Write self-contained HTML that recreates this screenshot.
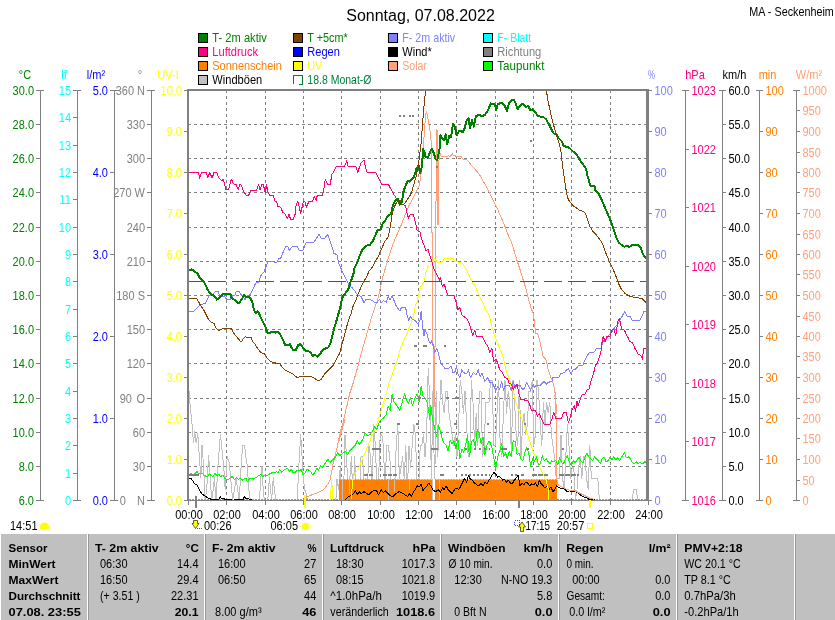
<!DOCTYPE html>
<html lang="de"><head><meta charset="utf-8"><title>MA - Seckenheim - Sonntag, 07.08.2022</title>
<style>
html,body{margin:0;padding:0;background:#fff;}
body{width:835px;height:620px;overflow:hidden;}
svg{display:block;font-family:"Liberation Sans",sans-serif;font-size:11px;}
.c{shape-rendering:crispEdges;}
.b{font-weight:bold;}
.p{fill:none;stroke-linejoin:round;stroke-linecap:butt;}
</style></head><body>
<svg width="835" height="620" viewBox="0 0 835 620">
<rect x="0" y="0" width="835" height="620" fill="#fff"/>
<text x="420.5" y="21" font-size="16" text-anchor="middle">Sonntag, 07.08.2022</text>
<text transform="matrix(1 0 0 1.09 749.3 15.5)" textLength="84.5" lengthAdjust="spacingAndGlyphs">MA - Seckenheim</text>
<g class="c">
<rect x="198.5" y="33.5" width="9" height="9" fill="#008000" stroke="#000"/>
<rect x="198.5" y="47.5" width="9" height="9" fill="#FF0080" stroke="#000"/>
<rect x="198.5" y="61.5" width="9" height="9" fill="#FF8000" stroke="#000"/>
<rect x="198.5" y="75.5" width="9" height="9" fill="#C0C0C0" stroke="#000"/>
<rect x="293.5" y="33.5" width="9" height="9" fill="#804000" stroke="#000"/>
<rect x="293.5" y="47.5" width="9" height="9" fill="#0000FF" stroke="#000"/>
<rect x="293.5" y="61.5" width="9" height="9" fill="#FFFF00" stroke="#000"/>
<path d="M293.5 84V75.5H302.5V84.5H299" fill="none" stroke="#008040"/>
<rect x="388.5" y="33.5" width="9" height="9" fill="#8080FF" stroke="#000"/>
<rect x="388.5" y="47.5" width="9" height="9" fill="#000000" stroke="#000"/>
<rect x="388.5" y="61.5" width="9" height="9" fill="#FFA07A" stroke="#000"/>
<rect x="483.5" y="33.5" width="9" height="9" fill="#00FFFF" stroke="#000"/>
<rect x="483.5" y="47.5" width="9" height="9" fill="#808080" stroke="#000"/>
<rect x="483.5" y="61.5" width="9" height="9" fill="#00FF00" stroke="#000"/>
</g>
<text transform="matrix(1 0 0 1.09 212.3 42)" fill="#008000" textLength="54.5" lengthAdjust="spacingAndGlyphs">T- 2m aktiv</text>
<text transform="matrix(1 0 0 1.09 212.3 56)" fill="#FF0080" textLength="45.8" lengthAdjust="spacingAndGlyphs">Luftdruck</text>
<text transform="matrix(1 0 0 1.09 212.3 70)" fill="#FF8000" textLength="69.5" lengthAdjust="spacingAndGlyphs">Sonnenschein</text>
<text transform="matrix(1 0 0 1.09 212.3 84)" textLength="50" lengthAdjust="spacingAndGlyphs">Windböen</text>
<text transform="matrix(1 0 0 1.09 307.3 42)" fill="#008000" textLength="40.5" lengthAdjust="spacingAndGlyphs">T +5cm*</text>
<text transform="matrix(1 0 0 1.09 307.3 56)" fill="#0000FF" textLength="32.6" lengthAdjust="spacingAndGlyphs">Regen</text>
<text transform="matrix(1 0 0 1.09 307.3 70)" fill="#FFFF00" textLength="15" lengthAdjust="spacingAndGlyphs">UV</text>
<text transform="matrix(1 0 0 1.09 307.3 84)" fill="#008040" textLength="64.2" lengthAdjust="spacingAndGlyphs">18.8 Monat-Ø</text>
<text transform="matrix(1 0 0 1.09 402.3 42)" fill="#8080FF" textLength="52.9" lengthAdjust="spacingAndGlyphs">F- 2m aktiv</text>
<text transform="matrix(1 0 0 1.09 402.3 56)" textLength="29.5" lengthAdjust="spacingAndGlyphs">Wind*</text>
<text transform="matrix(1 0 0 1.09 402.3 70)" fill="#FFA07A" textLength="24.7" lengthAdjust="spacingAndGlyphs">Solar</text>
<text transform="matrix(1 0 0 1.09 497.3 42)" fill="#00FFFF" textLength="33.9" lengthAdjust="spacingAndGlyphs">F- Blatt</text>
<text transform="matrix(1 0 0 1.09 497.3 56)" fill="#808080" textLength="44" lengthAdjust="spacingAndGlyphs">Richtung</text>
<text transform="matrix(1 0 0 1.09 497.3 70)" fill="#008000" textLength="47.1" lengthAdjust="spacingAndGlyphs">Taupunkt</text>
<g class="c">
<line x1="40.5" y1="90" x2="40.5" y2="501" stroke="#808080" stroke-width="1"/>
<line x1="36" y1="90.5" x2="44" y2="90.5" stroke="#808080" stroke-width="1"/>
<line x1="36" y1="124.5" x2="41" y2="124.5" stroke="#808080" stroke-width="1"/>
<line x1="36" y1="158.5" x2="41" y2="158.5" stroke="#808080" stroke-width="1"/>
<line x1="36" y1="192.5" x2="41" y2="192.5" stroke="#808080" stroke-width="1"/>
<line x1="36" y1="227.5" x2="41" y2="227.5" stroke="#808080" stroke-width="1"/>
<line x1="36" y1="261.5" x2="41" y2="261.5" stroke="#808080" stroke-width="1"/>
<line x1="36" y1="295.5" x2="41" y2="295.5" stroke="#808080" stroke-width="1"/>
<line x1="36" y1="329.5" x2="41" y2="329.5" stroke="#808080" stroke-width="1"/>
<line x1="36" y1="363.5" x2="41" y2="363.5" stroke="#808080" stroke-width="1"/>
<line x1="36" y1="398.5" x2="41" y2="398.5" stroke="#808080" stroke-width="1"/>
<line x1="36" y1="432.5" x2="41" y2="432.5" stroke="#808080" stroke-width="1"/>
<line x1="36" y1="466.5" x2="41" y2="466.5" stroke="#808080" stroke-width="1"/>
<line x1="36" y1="500.5" x2="44" y2="500.5" stroke="#808080" stroke-width="1"/>
</g>
<text transform="matrix(1 0 0 1.09 34 94.6)" fill="#008000" text-anchor="end">30.0</text>
<text transform="matrix(1 0 0 1.09 34 128.6)" fill="#008000" text-anchor="end">28.0</text>
<text transform="matrix(1 0 0 1.09 34 162.6)" fill="#008000" text-anchor="end">26.0</text>
<text transform="matrix(1 0 0 1.09 34 196.6)" fill="#008000" text-anchor="end">24.0</text>
<text transform="matrix(1 0 0 1.09 34 231.6)" fill="#008000" text-anchor="end">22.0</text>
<text transform="matrix(1 0 0 1.09 34 265.6)" fill="#008000" text-anchor="end">20.0</text>
<text transform="matrix(1 0 0 1.09 34 299.6)" fill="#008000" text-anchor="end">18.0</text>
<text transform="matrix(1 0 0 1.09 34 333.6)" fill="#008000" text-anchor="end">16.0</text>
<text transform="matrix(1 0 0 1.09 34 367.6)" fill="#008000" text-anchor="end">14.0</text>
<text transform="matrix(1 0 0 1.09 34 402.6)" fill="#008000" text-anchor="end">12.0</text>
<text transform="matrix(1 0 0 1.09 34 436.6)" fill="#008000" text-anchor="end">10.0</text>
<text transform="matrix(1 0 0 1.09 34 470.6)" fill="#008000" text-anchor="end">8.0</text>
<text transform="matrix(1 0 0 1.09 34 504.6)" fill="#008000" text-anchor="end">6.0</text>
<text transform="matrix(1 0 0 1.09 25 78.7)" fill="#008000" text-anchor="middle">°C</text>
<g class="c">
<line x1="77.5" y1="90" x2="77.5" y2="501" stroke="#808080" stroke-width="1"/>
<line x1="73" y1="90.5" x2="81" y2="90.5" stroke="#808080" stroke-width="1"/>
<line x1="73" y1="117.5" x2="78" y2="117.5" stroke="#808080" stroke-width="1"/>
<line x1="73" y1="145.5" x2="78" y2="145.5" stroke="#808080" stroke-width="1"/>
<line x1="73" y1="172.5" x2="78" y2="172.5" stroke="#808080" stroke-width="1"/>
<line x1="73" y1="199.5" x2="78" y2="199.5" stroke="#808080" stroke-width="1"/>
<line x1="73" y1="227.5" x2="78" y2="227.5" stroke="#808080" stroke-width="1"/>
<line x1="73" y1="254.5" x2="78" y2="254.5" stroke="#808080" stroke-width="1"/>
<line x1="73" y1="281.5" x2="78" y2="281.5" stroke="#808080" stroke-width="1"/>
<line x1="73" y1="309.5" x2="78" y2="309.5" stroke="#808080" stroke-width="1"/>
<line x1="73" y1="336.5" x2="78" y2="336.5" stroke="#808080" stroke-width="1"/>
<line x1="73" y1="363.5" x2="78" y2="363.5" stroke="#808080" stroke-width="1"/>
<line x1="73" y1="391.5" x2="78" y2="391.5" stroke="#808080" stroke-width="1"/>
<line x1="73" y1="418.5" x2="78" y2="418.5" stroke="#808080" stroke-width="1"/>
<line x1="73" y1="445.5" x2="78" y2="445.5" stroke="#808080" stroke-width="1"/>
<line x1="73" y1="473.5" x2="78" y2="473.5" stroke="#808080" stroke-width="1"/>
<line x1="73" y1="500.5" x2="81" y2="500.5" stroke="#808080" stroke-width="1"/>
</g>
<text transform="matrix(1 0 0 1.09 71 94.6)" fill="#00FFFF" text-anchor="end">15</text>
<text transform="matrix(1 0 0 1.09 71 121.6)" fill="#00FFFF" text-anchor="end">14</text>
<text transform="matrix(1 0 0 1.09 71 149.6)" fill="#00FFFF" text-anchor="end">13</text>
<text transform="matrix(1 0 0 1.09 71 176.6)" fill="#00FFFF" text-anchor="end">12</text>
<text transform="matrix(1 0 0 1.09 71 203.6)" fill="#00FFFF" text-anchor="end">11</text>
<text transform="matrix(1 0 0 1.09 71 231.6)" fill="#00FFFF" text-anchor="end">10</text>
<text transform="matrix(1 0 0 1.09 71 258.6)" fill="#00FFFF" text-anchor="end">9</text>
<text transform="matrix(1 0 0 1.09 71 285.6)" fill="#00FFFF" text-anchor="end">8</text>
<text transform="matrix(1 0 0 1.09 71 313.6)" fill="#00FFFF" text-anchor="end">7</text>
<text transform="matrix(1 0 0 1.09 71 340.6)" fill="#00FFFF" text-anchor="end">6</text>
<text transform="matrix(1 0 0 1.09 71 367.6)" fill="#00FFFF" text-anchor="end">5</text>
<text transform="matrix(1 0 0 1.09 71 395.6)" fill="#00FFFF" text-anchor="end">4</text>
<text transform="matrix(1 0 0 1.09 71 422.6)" fill="#00FFFF" text-anchor="end">3</text>
<text transform="matrix(1 0 0 1.09 71 449.6)" fill="#00FFFF" text-anchor="end">2</text>
<text transform="matrix(1 0 0 1.09 71 477.6)" fill="#00FFFF" text-anchor="end">1</text>
<text transform="matrix(1 0 0 1.09 71 504.6)" fill="#00FFFF" text-anchor="end">0</text>
<text transform="matrix(1 0 0 1.09 64 78.7)" fill="#00FFFF" text-anchor="middle">lf</text>
<g class="c">
<line x1="114.5" y1="90" x2="114.5" y2="501" stroke="#808080" stroke-width="1"/>
<line x1="110" y1="90.5" x2="118" y2="90.5" stroke="#808080" stroke-width="1"/>
<line x1="110" y1="172.5" x2="115" y2="172.5" stroke="#808080" stroke-width="1"/>
<line x1="110" y1="254.5" x2="115" y2="254.5" stroke="#808080" stroke-width="1"/>
<line x1="110" y1="336.5" x2="115" y2="336.5" stroke="#808080" stroke-width="1"/>
<line x1="110" y1="418.5" x2="115" y2="418.5" stroke="#808080" stroke-width="1"/>
<line x1="110" y1="500.5" x2="118" y2="500.5" stroke="#808080" stroke-width="1"/>
</g>
<text transform="matrix(1 0 0 1.09 108 94.6)" fill="#0000FF" text-anchor="end">5.0</text>
<text transform="matrix(1 0 0 1.09 108 176.6)" fill="#0000FF" text-anchor="end">4.0</text>
<text transform="matrix(1 0 0 1.09 108 258.6)" fill="#0000FF" text-anchor="end">3.0</text>
<text transform="matrix(1 0 0 1.09 108 340.6)" fill="#0000FF" text-anchor="end">2.0</text>
<text transform="matrix(1 0 0 1.09 108 422.6)" fill="#0000FF" text-anchor="end">1.0</text>
<text transform="matrix(1 0 0 1.09 108 504.6)" fill="#0000FF" text-anchor="end">0.0</text>
<text transform="matrix(1 0 0 1.09 96 78.7)" fill="#0000FF" text-anchor="middle">l/m²</text>
<g class="c">
<line x1="151.5" y1="90" x2="151.5" y2="501" stroke="#808080" stroke-width="1"/>
<line x1="147" y1="90.5" x2="155" y2="90.5" stroke="#808080" stroke-width="1"/>
<line x1="147" y1="124.5" x2="152" y2="124.5" stroke="#808080" stroke-width="1"/>
<line x1="147" y1="158.5" x2="152" y2="158.5" stroke="#808080" stroke-width="1"/>
<line x1="147" y1="192.5" x2="152" y2="192.5" stroke="#808080" stroke-width="1"/>
<line x1="147" y1="227.5" x2="152" y2="227.5" stroke="#808080" stroke-width="1"/>
<line x1="147" y1="261.5" x2="152" y2="261.5" stroke="#808080" stroke-width="1"/>
<line x1="147" y1="295.5" x2="152" y2="295.5" stroke="#808080" stroke-width="1"/>
<line x1="147" y1="329.5" x2="152" y2="329.5" stroke="#808080" stroke-width="1"/>
<line x1="147" y1="363.5" x2="152" y2="363.5" stroke="#808080" stroke-width="1"/>
<line x1="147" y1="398.5" x2="152" y2="398.5" stroke="#808080" stroke-width="1"/>
<line x1="147" y1="432.5" x2="152" y2="432.5" stroke="#808080" stroke-width="1"/>
<line x1="147" y1="466.5" x2="152" y2="466.5" stroke="#808080" stroke-width="1"/>
<line x1="147" y1="500.5" x2="155" y2="500.5" stroke="#808080" stroke-width="1"/>
</g>
<text transform="matrix(1 0 0 1.09 145 94.6)" fill="#808080" text-anchor="end">360 N</text>
<text transform="matrix(1 0 0 1.09 145 128.6)" fill="#808080" text-anchor="end">330</text>
<text transform="matrix(1 0 0 1.09 145 162.6)" fill="#808080" text-anchor="end">300</text>
<text transform="matrix(1 0 0 1.09 145 196.6)" fill="#808080" text-anchor="end">270 W</text>
<text transform="matrix(1 0 0 1.09 145 231.6)" fill="#808080" text-anchor="end">240</text>
<text transform="matrix(1 0 0 1.09 145 265.6)" fill="#808080" text-anchor="end">210</text>
<text transform="matrix(1 0 0 1.09 145 299.6)" fill="#808080" text-anchor="end">180 S</text>
<text transform="matrix(1 0 0 1.09 145 333.6)" fill="#808080" text-anchor="end">150</text>
<text transform="matrix(1 0 0 1.09 145 367.6)" fill="#808080" text-anchor="end">120</text>
<text transform="matrix(1 0 0 1.09 145 402.6)" fill="#808080" text-anchor="end">90 <tspan dx="1.4">O</tspan></text>
<text transform="matrix(1 0 0 1.09 145 436.6)" fill="#808080" text-anchor="end">60</text>
<text transform="matrix(1 0 0 1.09 145 470.6)" fill="#808080" text-anchor="end">30</text>
<text transform="matrix(1 0 0 1.09 145 504.6)" fill="#808080" text-anchor="end">0 <tspan dx="8.2">N</tspan></text>
<text transform="matrix(1 0 0 1.09 140 78.7)" fill="#808080" text-anchor="middle">°</text>
<g class="c">
<line x1="188.5" y1="90" x2="188.5" y2="501" stroke="#808080" stroke-width="1"/>
<line x1="184" y1="90.5" x2="192" y2="90.5" stroke="#808080" stroke-width="1"/>
<line x1="184" y1="131.5" x2="189" y2="131.5" stroke="#808080" stroke-width="1"/>
<line x1="184" y1="172.5" x2="189" y2="172.5" stroke="#808080" stroke-width="1"/>
<line x1="184" y1="213.5" x2="189" y2="213.5" stroke="#808080" stroke-width="1"/>
<line x1="184" y1="254.5" x2="189" y2="254.5" stroke="#808080" stroke-width="1"/>
<line x1="184" y1="295.5" x2="189" y2="295.5" stroke="#808080" stroke-width="1"/>
<line x1="184" y1="336.5" x2="189" y2="336.5" stroke="#808080" stroke-width="1"/>
<line x1="184" y1="377.5" x2="189" y2="377.5" stroke="#808080" stroke-width="1"/>
<line x1="184" y1="418.5" x2="189" y2="418.5" stroke="#808080" stroke-width="1"/>
<line x1="184" y1="459.5" x2="189" y2="459.5" stroke="#808080" stroke-width="1"/>
<line x1="184" y1="500.5" x2="192" y2="500.5" stroke="#808080" stroke-width="1"/>
</g>
<text transform="matrix(1 0 0 1.09 182 94.6)" fill="#FFFF00" text-anchor="end">10.0</text>
<text transform="matrix(1 0 0 1.09 182 135.6)" fill="#FFFF00" text-anchor="end">9.0</text>
<text transform="matrix(1 0 0 1.09 182 176.6)" fill="#FFFF00" text-anchor="end">8.0</text>
<text transform="matrix(1 0 0 1.09 182 217.6)" fill="#FFFF00" text-anchor="end">7.0</text>
<text transform="matrix(1 0 0 1.09 182 258.6)" fill="#FFFF00" text-anchor="end">6.0</text>
<text transform="matrix(1 0 0 1.09 182 299.6)" fill="#FFFF00" text-anchor="end">5.0</text>
<text transform="matrix(1 0 0 1.09 182 340.6)" fill="#FFFF00" text-anchor="end">4.0</text>
<text transform="matrix(1 0 0 1.09 182 381.6)" fill="#FFFF00" text-anchor="end">3.0</text>
<text transform="matrix(1 0 0 1.09 182 422.6)" fill="#FFFF00" text-anchor="end">2.0</text>
<text transform="matrix(1 0 0 1.09 182 463.6)" fill="#FFFF00" text-anchor="end">1.0</text>
<text transform="matrix(1 0 0 1.09 182 504.6)" fill="#FFFF00" text-anchor="end">0.0</text>
<text transform="matrix(1 0 0 1.09 168 78.7)" fill="#FFFF00" text-anchor="middle">UV-I</text>
<g class="c">
<line x1="648.5" y1="90" x2="648.5" y2="501" stroke="#808080" stroke-width="1"/>
<line x1="645" y1="90.5" x2="652" y2="90.5" stroke="#808080" stroke-width="1"/>
<line x1="648" y1="131.5" x2="652" y2="131.5" stroke="#808080" stroke-width="1"/>
<line x1="648" y1="172.5" x2="652" y2="172.5" stroke="#808080" stroke-width="1"/>
<line x1="648" y1="213.5" x2="652" y2="213.5" stroke="#808080" stroke-width="1"/>
<line x1="648" y1="254.5" x2="652" y2="254.5" stroke="#808080" stroke-width="1"/>
<line x1="648" y1="295.5" x2="652" y2="295.5" stroke="#808080" stroke-width="1"/>
<line x1="648" y1="336.5" x2="652" y2="336.5" stroke="#808080" stroke-width="1"/>
<line x1="648" y1="377.5" x2="652" y2="377.5" stroke="#808080" stroke-width="1"/>
<line x1="648" y1="418.5" x2="652" y2="418.5" stroke="#808080" stroke-width="1"/>
<line x1="648" y1="459.5" x2="652" y2="459.5" stroke="#808080" stroke-width="1"/>
<line x1="645" y1="500.5" x2="652" y2="500.5" stroke="#808080" stroke-width="1"/>
</g>
<text transform="matrix(1 0 0 1.09 654.4 94.6)" fill="#8080FF">100</text>
<text transform="matrix(1 0 0 1.09 654.4 135.6)" fill="#8080FF">90</text>
<text transform="matrix(1 0 0 1.09 654.4 176.6)" fill="#8080FF">80</text>
<text transform="matrix(1 0 0 1.09 654.4 217.6)" fill="#8080FF">70</text>
<text transform="matrix(1 0 0 1.09 654.4 258.6)" fill="#8080FF">60</text>
<text transform="matrix(1 0 0 1.09 654.4 299.6)" fill="#8080FF">50</text>
<text transform="matrix(1 0 0 1.09 654.4 340.6)" fill="#8080FF">40</text>
<text transform="matrix(1 0 0 1.09 654.4 381.6)" fill="#8080FF">30</text>
<text transform="matrix(1 0 0 1.09 654.4 422.6)" fill="#8080FF">20</text>
<text transform="matrix(1 0 0 1.09 654.4 463.6)" fill="#8080FF">10</text>
<text transform="matrix(1 0 0 1.09 654.4 504.6)" fill="#8080FF">0</text>
<text transform="matrix(1 0 0 1.09 651.5 78.7)" fill="#8080FF" text-anchor="middle" textLength="7" lengthAdjust="spacingAndGlyphs">%</text>
<g class="c">
<line x1="685.5" y1="90" x2="685.5" y2="501" stroke="#808080" stroke-width="1"/>
<line x1="682" y1="90.5" x2="689" y2="90.5" stroke="#808080" stroke-width="1"/>
<line x1="685" y1="149.5" x2="689" y2="149.5" stroke="#808080" stroke-width="1"/>
<line x1="685" y1="207.5" x2="689" y2="207.5" stroke="#808080" stroke-width="1"/>
<line x1="685" y1="266.5" x2="689" y2="266.5" stroke="#808080" stroke-width="1"/>
<line x1="685" y1="324.5" x2="689" y2="324.5" stroke="#808080" stroke-width="1"/>
<line x1="685" y1="383.5" x2="689" y2="383.5" stroke="#808080" stroke-width="1"/>
<line x1="685" y1="441.5" x2="689" y2="441.5" stroke="#808080" stroke-width="1"/>
<line x1="682" y1="500.5" x2="689" y2="500.5" stroke="#808080" stroke-width="1"/>
</g>
<text transform="matrix(1 0 0 1.09 691.4 94.6)" fill="#FF0080">1023</text>
<text transform="matrix(1 0 0 1.09 691.4 153.6)" fill="#FF0080">1022</text>
<text transform="matrix(1 0 0 1.09 691.4 211.6)" fill="#FF0080">1021</text>
<text transform="matrix(1 0 0 1.09 691.4 270.6)" fill="#FF0080">1020</text>
<text transform="matrix(1 0 0 1.09 691.4 328.6)" fill="#FF0080">1019</text>
<text transform="matrix(1 0 0 1.09 691.4 387.6)" fill="#FF0080">1018</text>
<text transform="matrix(1 0 0 1.09 691.4 445.6)" fill="#FF0080">1017</text>
<text transform="matrix(1 0 0 1.09 691.4 504.6)" fill="#FF0080">1016</text>
<text transform="matrix(1 0 0 1.09 695 78.7)" fill="#FF0080" text-anchor="middle">hPa</text>
<g class="c">
<line x1="722.5" y1="90" x2="722.5" y2="501" stroke="#808080" stroke-width="1"/>
<line x1="719" y1="90.5" x2="726" y2="90.5" stroke="#808080" stroke-width="1"/>
<line x1="722" y1="124.5" x2="726" y2="124.5" stroke="#808080" stroke-width="1"/>
<line x1="722" y1="158.5" x2="726" y2="158.5" stroke="#808080" stroke-width="1"/>
<line x1="722" y1="192.5" x2="726" y2="192.5" stroke="#808080" stroke-width="1"/>
<line x1="722" y1="227.5" x2="726" y2="227.5" stroke="#808080" stroke-width="1"/>
<line x1="722" y1="261.5" x2="726" y2="261.5" stroke="#808080" stroke-width="1"/>
<line x1="722" y1="295.5" x2="726" y2="295.5" stroke="#808080" stroke-width="1"/>
<line x1="722" y1="329.5" x2="726" y2="329.5" stroke="#808080" stroke-width="1"/>
<line x1="722" y1="363.5" x2="726" y2="363.5" stroke="#808080" stroke-width="1"/>
<line x1="722" y1="398.5" x2="726" y2="398.5" stroke="#808080" stroke-width="1"/>
<line x1="722" y1="432.5" x2="726" y2="432.5" stroke="#808080" stroke-width="1"/>
<line x1="722" y1="466.5" x2="726" y2="466.5" stroke="#808080" stroke-width="1"/>
<line x1="719" y1="500.5" x2="726" y2="500.5" stroke="#808080" stroke-width="1"/>
</g>
<text transform="matrix(1 0 0 1.09 728.4 94.6)">60.0</text>
<text transform="matrix(1 0 0 1.09 728.4 128.6)">55.0</text>
<text transform="matrix(1 0 0 1.09 728.4 162.6)">50.0</text>
<text transform="matrix(1 0 0 1.09 728.4 196.6)">45.0</text>
<text transform="matrix(1 0 0 1.09 728.4 231.6)">40.0</text>
<text transform="matrix(1 0 0 1.09 728.4 265.6)">35.0</text>
<text transform="matrix(1 0 0 1.09 728.4 299.6)">30.0</text>
<text transform="matrix(1 0 0 1.09 728.4 333.6)">25.0</text>
<text transform="matrix(1 0 0 1.09 728.4 367.6)">20.0</text>
<text transform="matrix(1 0 0 1.09 728.4 402.6)">15.0</text>
<text transform="matrix(1 0 0 1.09 728.4 436.6)">10.0</text>
<text transform="matrix(1 0 0 1.09 728.4 470.6)">5.0</text>
<text transform="matrix(1 0 0 1.09 728.4 504.6)">0.0</text>
<text transform="matrix(1 0 0 1.09 734.5 78.7)" text-anchor="middle">km/h</text>
<g class="c">
<line x1="759.5" y1="90" x2="759.5" y2="501" stroke="#808080" stroke-width="1"/>
<line x1="756" y1="90.5" x2="763" y2="90.5" stroke="#808080" stroke-width="1"/>
<line x1="759" y1="131.5" x2="763" y2="131.5" stroke="#808080" stroke-width="1"/>
<line x1="759" y1="172.5" x2="763" y2="172.5" stroke="#808080" stroke-width="1"/>
<line x1="759" y1="213.5" x2="763" y2="213.5" stroke="#808080" stroke-width="1"/>
<line x1="759" y1="254.5" x2="763" y2="254.5" stroke="#808080" stroke-width="1"/>
<line x1="759" y1="295.5" x2="763" y2="295.5" stroke="#808080" stroke-width="1"/>
<line x1="759" y1="336.5" x2="763" y2="336.5" stroke="#808080" stroke-width="1"/>
<line x1="759" y1="377.5" x2="763" y2="377.5" stroke="#808080" stroke-width="1"/>
<line x1="759" y1="418.5" x2="763" y2="418.5" stroke="#808080" stroke-width="1"/>
<line x1="759" y1="459.5" x2="763" y2="459.5" stroke="#808080" stroke-width="1"/>
<line x1="756" y1="500.5" x2="763" y2="500.5" stroke="#808080" stroke-width="1"/>
</g>
<text transform="matrix(1 0 0 1.09 765.4 94.6)" fill="#FF8000">100</text>
<text transform="matrix(1 0 0 1.09 765.4 135.6)" fill="#FF8000">90</text>
<text transform="matrix(1 0 0 1.09 765.4 176.6)" fill="#FF8000">80</text>
<text transform="matrix(1 0 0 1.09 765.4 217.6)" fill="#FF8000">70</text>
<text transform="matrix(1 0 0 1.09 765.4 258.6)" fill="#FF8000">60</text>
<text transform="matrix(1 0 0 1.09 765.4 299.6)" fill="#FF8000">50</text>
<text transform="matrix(1 0 0 1.09 765.4 340.6)" fill="#FF8000">40</text>
<text transform="matrix(1 0 0 1.09 765.4 381.6)" fill="#FF8000">30</text>
<text transform="matrix(1 0 0 1.09 765.4 422.6)" fill="#FF8000">20</text>
<text transform="matrix(1 0 0 1.09 765.4 463.6)" fill="#FF8000">10</text>
<text transform="matrix(1 0 0 1.09 765.4 504.6)" fill="#FF8000">0</text>
<text transform="matrix(1 0 0 1.09 767.5 78.7)" fill="#FF8000" text-anchor="middle">min</text>
<g class="c">
<line x1="796.5" y1="90" x2="796.5" y2="501" stroke="#808080" stroke-width="1"/>
<line x1="793" y1="90.5" x2="800" y2="90.5" stroke="#808080" stroke-width="1"/>
<line x1="796" y1="110.5" x2="800" y2="110.5" stroke="#808080" stroke-width="1"/>
<line x1="796" y1="131.5" x2="800" y2="131.5" stroke="#808080" stroke-width="1"/>
<line x1="796" y1="152.5" x2="800" y2="152.5" stroke="#808080" stroke-width="1"/>
<line x1="796" y1="172.5" x2="800" y2="172.5" stroke="#808080" stroke-width="1"/>
<line x1="796" y1="192.5" x2="800" y2="192.5" stroke="#808080" stroke-width="1"/>
<line x1="796" y1="213.5" x2="800" y2="213.5" stroke="#808080" stroke-width="1"/>
<line x1="796" y1="234.5" x2="800" y2="234.5" stroke="#808080" stroke-width="1"/>
<line x1="796" y1="254.5" x2="800" y2="254.5" stroke="#808080" stroke-width="1"/>
<line x1="796" y1="274.5" x2="800" y2="274.5" stroke="#808080" stroke-width="1"/>
<line x1="796" y1="295.5" x2="800" y2="295.5" stroke="#808080" stroke-width="1"/>
<line x1="796" y1="316.5" x2="800" y2="316.5" stroke="#808080" stroke-width="1"/>
<line x1="796" y1="336.5" x2="800" y2="336.5" stroke="#808080" stroke-width="1"/>
<line x1="796" y1="356.5" x2="800" y2="356.5" stroke="#808080" stroke-width="1"/>
<line x1="796" y1="377.5" x2="800" y2="377.5" stroke="#808080" stroke-width="1"/>
<line x1="796" y1="398.5" x2="800" y2="398.5" stroke="#808080" stroke-width="1"/>
<line x1="796" y1="418.5" x2="800" y2="418.5" stroke="#808080" stroke-width="1"/>
<line x1="796" y1="438.5" x2="800" y2="438.5" stroke="#808080" stroke-width="1"/>
<line x1="796" y1="459.5" x2="800" y2="459.5" stroke="#808080" stroke-width="1"/>
<line x1="796" y1="480.5" x2="800" y2="480.5" stroke="#808080" stroke-width="1"/>
<line x1="793" y1="500.5" x2="800" y2="500.5" stroke="#808080" stroke-width="1"/>
</g>
<text transform="matrix(1 0 0 1.09 802.4 94.6)" fill="#FFA07A">1000</text>
<text transform="matrix(1 0 0 1.09 802.4 114.6)" fill="#FFA07A">950</text>
<text transform="matrix(1 0 0 1.09 802.4 135.6)" fill="#FFA07A">900</text>
<text transform="matrix(1 0 0 1.09 802.4 156.6)" fill="#FFA07A">850</text>
<text transform="matrix(1 0 0 1.09 802.4 176.6)" fill="#FFA07A">800</text>
<text transform="matrix(1 0 0 1.09 802.4 196.6)" fill="#FFA07A">750</text>
<text transform="matrix(1 0 0 1.09 802.4 217.6)" fill="#FFA07A">700</text>
<text transform="matrix(1 0 0 1.09 802.4 238.6)" fill="#FFA07A">650</text>
<text transform="matrix(1 0 0 1.09 802.4 258.6)" fill="#FFA07A">600</text>
<text transform="matrix(1 0 0 1.09 802.4 278.6)" fill="#FFA07A">550</text>
<text transform="matrix(1 0 0 1.09 802.4 299.6)" fill="#FFA07A">500</text>
<text transform="matrix(1 0 0 1.09 802.4 320.6)" fill="#FFA07A">450</text>
<text transform="matrix(1 0 0 1.09 802.4 340.6)" fill="#FFA07A">400</text>
<text transform="matrix(1 0 0 1.09 802.4 360.6)" fill="#FFA07A">350</text>
<text transform="matrix(1 0 0 1.09 802.4 381.6)" fill="#FFA07A">300</text>
<text transform="matrix(1 0 0 1.09 802.4 402.6)" fill="#FFA07A">250</text>
<text transform="matrix(1 0 0 1.09 802.4 422.6)" fill="#FFA07A">200</text>
<text transform="matrix(1 0 0 1.09 802.4 442.6)" fill="#FFA07A">150</text>
<text transform="matrix(1 0 0 1.09 802.4 463.6)" fill="#FFA07A">100</text>
<text transform="matrix(1 0 0 1.09 802.4 484.6)" fill="#FFA07A">50</text>
<text transform="matrix(1 0 0 1.09 802.4 504.6)" fill="#FFA07A">0</text>
<text transform="matrix(1 0 0 1.09 809 78.7)" fill="#FFA07A" text-anchor="middle">W/m²</text>
<g class="c">
<line x1="188" y1="124.5" x2="647" y2="124.5" stroke="#808080" stroke-dasharray="3 3"/>
<line x1="188" y1="158.5" x2="647" y2="158.5" stroke="#808080" stroke-dasharray="3 3"/>
<line x1="188" y1="192.5" x2="647" y2="192.5" stroke="#808080" stroke-dasharray="3 3"/>
<line x1="188" y1="227.5" x2="647" y2="227.5" stroke="#808080" stroke-dasharray="3 3"/>
<line x1="188" y1="261.5" x2="647" y2="261.5" stroke="#808080" stroke-dasharray="3 3"/>
<line x1="188" y1="295.5" x2="647" y2="295.5" stroke="#808080" stroke-dasharray="3 3"/>
<line x1="188" y1="329.5" x2="647" y2="329.5" stroke="#808080" stroke-dasharray="3 3"/>
<line x1="188" y1="363.5" x2="647" y2="363.5" stroke="#808080" stroke-dasharray="3 3"/>
<line x1="188" y1="398.5" x2="647" y2="398.5" stroke="#808080" stroke-dasharray="3 3"/>
<line x1="188" y1="432.5" x2="647" y2="432.5" stroke="#808080" stroke-dasharray="3 3"/>
<line x1="188" y1="466.5" x2="647" y2="466.5" stroke="#808080" stroke-dasharray="3 3"/>
<line x1="226.5" y1="90" x2="226.5" y2="500" stroke="#808080" stroke-dasharray="3 3"/>
<line x1="265.5" y1="90" x2="265.5" y2="500" stroke="#808080" stroke-dasharray="3 3"/>
<line x1="303.5" y1="90" x2="303.5" y2="500" stroke="#808080" stroke-dasharray="3 3"/>
<line x1="341.5" y1="90" x2="341.5" y2="500" stroke="#808080" stroke-dasharray="3 3"/>
<line x1="380.5" y1="90" x2="380.5" y2="500" stroke="#808080" stroke-dasharray="3 3"/>
<line x1="418.5" y1="90" x2="418.5" y2="500" stroke="#808080" stroke-dasharray="3 3"/>
<line x1="456.5" y1="90" x2="456.5" y2="500" stroke="#808080" stroke-dasharray="3 3"/>
<line x1="495.5" y1="90" x2="495.5" y2="500" stroke="#808080" stroke-dasharray="3 3"/>
<line x1="533.5" y1="90" x2="533.5" y2="500" stroke="#808080" stroke-dasharray="3 3"/>
<line x1="571.5" y1="90" x2="571.5" y2="500" stroke="#808080" stroke-dasharray="3 3"/>
<line x1="610.5" y1="90" x2="610.5" y2="500" stroke="#808080" stroke-dasharray="3 3"/>
</g>
<clipPath id="cp"><rect x="189" y="91" width="457" height="409"/></clipPath>
<g clip-path="url(#cp)">
<polyline class="p c" points="188.9,389.8 190.4,408.2 192.0,423.7 193.5,443.0 194.7,431.4 196.2,443.0 197.8,433.4 199.3,456.6 200.9,477.9 202.0,445.0 203.6,466.3 205.1,500.1 206.7,489.5 208.6,455.6 210.2,477.9 211.7,500.1 213.2,489.5 214.4,477.9 216.0,500.1 217.9,466.3 220.4,434.3 222.1,450.8 223.7,466.3 225.2,489.5 227.2,456.6 229.1,462.4 230.7,477.9 232.6,500.1 234.5,489.5 236.1,477.9 237.6,489.5 239.2,500.1 241.1,466.3 242.7,445.0 244.6,445.0 246.1,458.5 247.3,466.3 248.8,489.5 250.4,500.1 259.5,500.1 260.8,477.9 262.0,466.3 263.2,489.5 264.3,500.1 267.8,500.1 269.4,477.9 270.5,489.5 271.7,500.1 272.4,489.5 273.2,477.9 274.4,489.5 275.9,500.1 297.2,500.1 298.8,466.3 300.7,434.3 302.2,458.5 303.4,477.9 304.6,489.5 306.1,493.3 307.3,500.1 335.9,500.1 337.0,478.6 338.6,489.6 340.2,467.7 341.8,500.5 343.4,500.5 345.0,434.9 346.6,456.8 348.2,500.5 349.8,478.6 351.4,456.8 353.0,500.5 354.6,456.8 356.2,489.6 357.8,500.5 359.4,500.5 361.0,456.8 362.6,456.8 364.2,489.6 365.8,478.6 367.4,489.6 369.0,445.9 370.6,456.8 372.2,489.6 373.8,424.0 375.4,445.9 377.0,489.6 378.6,478.6 380.2,434.9 381.8,434.9 383.4,445.9 385.0,489.6 386.6,445.9 388.2,445.9 389.8,456.8 391.4,489.6 393.0,478.6 394.6,489.6 396.2,445.9 397.8,424.0 399.4,478.6 401.0,467.7 402.6,456.8 404.2,478.6 405.8,445.9 407.4,489.6 409.0,445.9 410.6,467.7 412.2,445.9 413.8,424.0 415.4,434.9 417.0,478.6 418.6,489.6 420.2,445.9 421.8,445.9 423.4,434.9 425.0,456.8 426.6,434.9 428.2,368.5 429.8,402.1 431.4,478.6 433.0,391.2 434.6,489.6 436.2,391.2 437.8,456.8 439.4,413.1 441.0,380.3 442.6,402.1 444.2,413.1 445.8,391.2 447.4,391.2 449.0,413.1 450.6,424.0 452.2,434.9 453.8,445.9 455.4,434.9 457.0,456.8 458.6,424.0 460.2,380.3 461.8,391.2 463.4,413.1 465.0,391.2 466.6,424.0 468.2,456.8 469.8,456.8 471.4,380.3 473.0,402.1 474.6,445.9 476.2,413.1 477.8,445.9 479.4,391.2 481.0,391.2 482.6,456.8 484.2,445.9 485.8,402.1 487.4,402.1 489.0,402.1 490.6,380.3 492.2,380.3 493.8,445.9 495.4,445.9 497.0,413.1 498.6,380.3 500.2,445.9 501.8,456.8 503.4,413.1 505.0,380.3 506.6,413.1 508.2,391.2 509.8,402.1 511.4,456.8 513.0,380.3 514.6,402.1 516.2,434.9 517.8,445.9 519.4,380.3 521.0,456.8 522.6,424.0 524.2,413.1 525.8,434.9 527.4,424.0 529.0,391.2 530.6,391.2 532.2,380.3 533.8,445.9 535.4,434.9 537.0,380.3 538.6,391.2 540.2,424.0 541.8,445.9 543.4,402.1 545.0,424.0 546.6,402.1 548.2,413.1 549.8,402.1 551.4,434.9 553.0,445.9 554.6,456.8 556.2,478.6 557.8,478.6 559.4,478.6 561.0,434.9 562.6,478.6 564.2,489.6 565.8,456.8 567.4,424.0 569.0,445.9 570.6,478.6 572.2,467.7 573.8,467.7 575.4,500.5 577.0,489.6 578.6,467.7 580.2,456.8 581.8,478.6 583.4,456.8 585.0,456.8 586.6,478.6 588.2,489.6 589.8,445.9 591.4,478.6 593.0,478.6 594.6,478.6 596.2,478.6 597.8,478.6 599.4,500.5 600.0,500.0 632.0,500.0 634.0,489.0 636.0,489.0 638.0,500.0 647.0,500.0" stroke="#C0C0C0" stroke-width="1"/>
<g class="c">
<rect x="339" y="480" width="218" height="20" fill="#FF8000"/>
<line x1="339" y1="479.5" x2="557" y2="479.5" stroke="#FF8000" stroke-dasharray="1 0.6" shape-rendering="auto"/>
<path d="M189 499.5H339M557 499.5H647" stroke="#FF8000" stroke-dasharray="2 1" fill="none"/>
<rect x="433" y="479" width="2" height="21" fill="#fff"/>
<rect x="342" y="479" width="1" height="21" fill="#C8C0C0"/>
<rect x="349" y="479" width="1" height="15" fill="#C8C0C0"/>
<rect x="388" y="479" width="1" height="21" fill="#C8C0C0"/>
<rect x="394" y="479" width="1" height="13" fill="#C8C0C0"/>
<rect x="409" y="479" width="1" height="11" fill="#C8C0C0"/>
<rect x="432" y="479" width="1" height="21" fill="#C8C0C0"/>
<rect x="439" y="479" width="1" height="21" fill="#C8C0C0"/>
</g>
<polyline class="p c" points="188.9,478.3 191.2,478.3 192.7,480.8 194.7,483.7 197.6,485.6 199.5,490.4 202.4,494.3 206.3,496.8 209.2,498.6 212.1,499.5 218.9,499.5 220.4,496.6 221.8,499.1 223.7,498.6 225.6,499.5 230.5,499.5 232.4,500.1 243.0,499.5 244.4,496.6 245.9,499.1 247.9,498.6 249.8,499.5 252.7,500.1 344.0,500.7 345.6,499.5 348.5,496.6 351.4,495.6 353.4,493.7 355.3,490.8 357.2,494.6 359.2,491.7 361.1,493.7 364.0,491.7 366.9,493.7 368.9,494.6 371.8,491.7 373.7,490.8 376.6,490.8 378.5,494.6 381.4,489.8 383.4,492.7 385.3,490.8 388.2,493.7 390.1,495.6 393.0,496.6 395.9,493.7 398.8,491.7 401.7,492.7 404.6,494.6 407.6,496.6 409.5,493.7 411.4,496.6 413.4,491.7 415.3,489.8 417.2,485.9 419.2,486.9 421.1,484.0 423.0,490.8 425.0,487.9 426.9,485.9 428.8,483.0 430.8,485.9 432.7,489.8 435.6,491.7 438.5,489.8 440.4,492.7 442.4,487.9 444.3,489.8 446.2,485.9 448.2,489.8 450.1,491.7 452.0,493.7 455.0,488.8 456.9,487.9 458.8,489.8 460.8,485.9 462.7,482.1 464.6,478.2 466.6,482.1 468.5,475.3 470.4,479.2 472.4,480.1 474.3,483.0 477.2,485.0 479.1,485.9 481.1,483.0 483.0,485.9 484.9,482.1 486.9,484.0 488.8,480.1 490.0,479.2 491.9,475.3 493.9,472.4 495.8,474.3 497.7,477.2 499.7,476.3 502.6,480.1 504.5,479.2 506.4,482.1 508.4,480.1 510.3,483.0 512.2,484.0 514.2,480.1 516.1,478.2 518.1,475.3 520.0,485.9 521.9,483.0 523.9,485.0 525.8,482.1 527.7,483.0 529.7,485.9 531.6,484.0 533.5,485.0 535.5,483.0 537.4,486.9 539.3,480.1 541.3,484.0 543.2,485.9 545.1,487.9 547.1,485.9 549.0,489.8 550.9,486.9 552.9,491.7 554.8,489.8 556.7,485.9 559.6,487.9 563.5,488.8 565.5,489.8 567.4,491.7 569.3,490.8 572.2,491.7 575.1,491.3 578.0,492.7 580.0,494.6 582.9,496.6 585.8,497.5 588.7,499.1 591.6,499.5 594.5,499.9 600.0,500.7" stroke="#000" stroke-width="1"/>
<polyline class="p c" points="304.0,499.1 306.9,496.8 310.8,495.3 314.6,493.7 318.5,492.4 322.4,490.4 325.3,487.5 328.2,483.7 330.1,479.8 331.7,472.1 333.0,464.3 334.9,456.6 336.9,448.8 338.8,439.2 340.7,430.5 342.7,424.7 345.0,418.9 338.9,441.4 342.7,424.0 346.6,406.6 349.5,395.0 346.6,407.5 349.5,394.0 353.4,382.4 357.2,368.8 360.2,357.2 364.0,343.7 367.9,330.2 371.8,316.6 375.6,305.0 376.6,303.3 379.5,291.7 382.4,278.2 385.3,268.5 389.2,255.0 393.0,244.3 396.9,234.7 400.8,226.0 404.6,216.3 408.5,206.6 412.4,198.9 419.5,185.0 421.5,170.0 423.0,150.0 424.3,133.0 425.2,120.5 426.2,111.2 427.4,116.0 428.7,123.0 430.0,131.0 431.0,140.0 431.5,149.0 431.5,232.0 432.5,233.0 432.5,345.0 433.5,346.0 433.5,420.0 434.5,395.0 434.5,347.0 435.5,346.0 435.5,202.0 436.5,200.0 436.5,129.0 437.5,131.0 437.5,225.0 438.5,224.0 438.5,172.0 439.0,160.0 439.5,151.0 440.7,156.0 442.0,157.0 448.2,155.9 450.5,156.3 452.2,153.6 453.6,155.9 460.6,156.3 463.3,159.0 466.6,159.5 472.4,166.3 479.1,174.0 485.9,185.6 491.7,197.2 492.9,199.8 496.8,207.6 500.6,216.3 504.5,225.0 508.4,235.6 511.3,241.4 514.2,251.1 517.1,260.8 520.0,269.5 522.9,279.2 525.8,287.9 528.7,299.5 531.6,310.1 532.6,310.8 534.5,322.4 535.5,333.1 537.4,333.6 539.3,338.9 541.3,348.5 543.2,356.3 546.1,360.1 548.0,368.8 550.9,377.6 552.9,382.4 554.8,390.1 555.8,401.7 556.7,413.3 554.8,395.0 555.8,406.6 556.4,433.7 556.7,462.7 557.1,484.0 559.6,485.9 567.4,489.8 575.1,490.8 580.9,493.7 586.7,496.6 590.6,498.5 594.5,499.5" stroke="#FFA07A" stroke-width="1"/>
<polyline class="p c" points="328.2,500.1 330.1,500.1 331.7,480.8 333.0,500.1 334.0,500.1" stroke="#FFFF00" stroke-width="1"/>
<polyline class="p c" points="351.4,499.5 352.4,482.1 354.3,474.3 357.2,470.5 360.2,464.6 363.1,456.9 366.0,451.1 368.9,443.4 371.8,436.6 374.7,429.8 377.6,422.1 380.5,412.4 383.4,402.7 385.7,395.0 387.2,390.1 389.2,382.4 392.1,374.6 394.0,368.8 396.9,361.1 398.8,353.4 401.7,345.6 404.6,338.9 407.6,332.1 410.5,324.3 413.4,316.6 415.3,305.0 417.2,301.4 419.2,291.7 421.1,285.9 424.0,282.1 425.9,272.4 427.9,266.6 430.8,265.6 432.7,260.8 434.6,258.8 437.5,262.3 441.4,262.3 444.3,258.8 447.2,258.3 453.0,258.3 455.0,261.7 461.7,262.3 464.6,266.6 467.5,271.4 469.5,276.3 472.4,283.0 475.3,285.9 478.2,293.7 481.1,299.5 483.0,303.3 484.9,308.2 487.8,313.0 489.8,316.6 491.7,326.3 493.6,332.1 494.8,336.0 497.7,343.7 500.6,350.5 503.5,358.2 505.5,368.8 508.4,376.6 510.3,382.4 512.2,388.2 514.2,395.9 516.1,403.7 519.0,411.4 521.9,419.1 523.9,423.0 525.8,429.8 528.7,437.6 531.6,447.2 534.5,455.0 537.4,462.7 540.3,468.5 543.2,474.3 546.1,480.1 548.0,487.9 549.0,499.5" stroke="#FFFF00" stroke-width="1"/>
<polyline class="p c" points="188.9,475.4 190.8,473.0 192.7,474.4 194.7,474.0 197.0,471.5 198.9,474.0 200.9,473.0 203.4,474.4 205.3,475.9 207.2,476.9 209.2,474.0 211.1,475.5 213.1,476.3 215.0,473.0 216.9,475.9 218.9,474.0 220.8,476.9 222.7,475.0 224.7,478.3 226.6,479.2 228.5,479.2 230.5,477.9 232.4,476.3 234.3,479.8 236.3,477.5 238.2,479.4 240.1,477.9 242.1,480.2 244.0,478.8 245.9,477.9 247.3,481.7 249.2,479.2 251.2,477.9 253.1,479.2 255.0,477.9 257.0,476.9 258.9,475.5 260.8,474.4 262.8,476.9 264.7,475.0 266.6,475.9 268.6,474.4 270.5,473.6 272.4,472.4 274.4,473.0 276.3,471.7 278.3,473.0 279.8,469.5 281.7,472.1 283.7,470.1 285.6,469.5 287.5,468.2 289.5,471.1 291.4,469.2 293.3,473.0 295.3,472.1 297.2,470.5 299.1,471.1 301.1,469.5 303.0,475.0 305.0,473.0 306.9,469.5 308.8,470.1 310.8,471.7 312.7,475.0 315.0,472.1 316.9,468.2 318.5,470.1 320.4,465.9 322.4,467.2 324.3,464.7 326.2,461.4 328.2,459.5 330.1,462.4 332.0,460.5 334.0,458.5 335.9,456.6 337.8,452.7 339.8,455.6 341.7,454.3 343.6,452.7 345.6,451.1 347.6,455.0 349.5,451.1 351.4,449.2 353.4,447.2 355.3,445.3 357.2,440.5 359.2,444.3 361.1,442.4 363.1,438.5 365.0,432.7 366.9,435.6 369.8,434.7 372.7,430.8 374.7,426.9 376.6,429.8 378.5,424.0 380.5,420.2 383.4,418.2 386.3,414.3 388.2,406.6 390.1,410.5 392.1,394.0 394.0,401.7 396.9,405.6 399.8,410.4 401.7,403.7 404.6,394.0 406.6,399.8 408.5,403.7 410.5,397.9 412.4,405.6 414.3,399.8 417.2,394.0 419.2,401.7 421.1,386.3 423.0,395.9 425.0,397.9 426.9,401.7 428.8,411.4 429.8,419.1 430.8,405.6 432.7,420.2 434.6,427.9 436.6,436.6 438.5,426.0 440.4,430.8 442.4,439.5 444.3,443.4 446.2,445.3 448.2,451.1 450.1,440.5 452.0,443.4 454.0,441.4 455.9,449.2 457.9,438.5 459.8,458.8 461.7,449.2 463.7,452.1 465.6,445.3 467.5,435.6 469.5,456.9 471.4,441.4 473.3,439.5 475.3,447.2 477.2,429.8 479.1,432.7 481.1,443.4 483.0,436.6 484.9,455.0 486.9,445.3 488.8,441.4 490.0,442.4 491.9,447.2 493.9,458.8 495.8,468.5 497.7,456.9 499.7,451.1 501.6,443.4 503.5,456.9 505.5,453.0 507.4,458.8 509.3,451.1 511.3,456.9 513.2,440.5 515.2,441.4 517.1,455.0 519.0,453.0 521.0,458.8 522.9,460.8 524.8,453.0 526.8,447.2 528.7,453.0 530.6,466.6 532.6,458.8 534.5,461.7 536.4,456.9 538.4,464.6 540.3,463.7 542.2,455.9 544.2,460.8 546.1,458.8 548.0,461.7 550.0,463.7 551.9,460.8 553.8,461.7 555.8,460.8 557.7,464.6 559.6,457.9 561.6,462.7 563.5,463.7 565.5,458.8 567.4,455.9 569.3,461.7 571.3,465.6 573.2,460.8 575.1,462.7 577.1,459.8 579.0,456.9 580.9,460.8 582.9,462.7 584.8,457.9 586.7,453.0 588.7,456.9 590.6,458.8 592.5,460.8 594.5,456.9 596.4,458.8 598.3,460.8 600.3,463.7 602.2,458.8 604.1,456.9 606.1,461.7 608.0,460.8 610.0,456.9 611.9,459.8 613.8,456.9 615.8,459.8 617.7,457.9 619.6,460.8 621.6,456.9 624.5,453.0 626.4,457.9 628.3,456.9 630.3,458.8 632.2,462.7 634.1,463.7 636.1,461.7 638.0,463.7 639.9,462.7 642.8,463.7 644.8,461.7 646.7,462.7" stroke="#00FF00" stroke-width="1"/>
<line class="c" x1="184" y1="281.5" x2="647" y2="281.5" stroke="#008040" stroke-dasharray="18 6"/>
<polyline class="p c" points="188.9,311.7 193.7,311.7 195.6,309.3 197.6,307.4 200.5,304.5 205.3,303.5 207.2,299.7 209.2,295.8 212.1,295.2 214.0,292.9 215.6,291.3 217.9,291.3 219.8,295.8 221.8,296.8 224.7,296.8 226.6,299.1 230.5,299.1 232.4,295.8 235.3,294.8 236.3,291.3 238.8,291.3 241.1,294.8 243.0,295.8 245.0,299.7 247.3,295.8 249.8,294.8 252.7,290.0 255.6,283.2 258.5,282.2 261.4,274.5 264.3,271.6 266.3,265.8 268.2,261.5 270.1,261.8 276.9,262.2 278.8,258.3 280.8,258.0 285.6,246.2 287.5,246.2 289.5,250.6 292.4,246.2 297.2,246.2 299.1,250.2 303.0,250.2 305.9,242.9 313.7,242.5 319.1,234.5 321.4,238.4 324.7,238.4 327.6,234.5 330.1,240.9 334.0,253.5 336.9,254.5 338.8,263.2 341.7,270.0 344.7,276.3 347.6,282.1 349.5,285.9 352.4,287.9 355.3,291.7 357.2,294.6 359.2,295.6 361.1,296.6 364.0,302.4 366.0,299.5 368.9,299.5 371.8,300.1 374.7,302.4 376.6,303.0 379.5,299.5 381.4,302.4 383.4,300.4 386.3,302.4 388.2,296.6 390.1,299.5 392.1,295.6 394.0,300.4 395.9,305.3 397.9,308.2 399.8,311.1 401.7,307.2 405.6,307.2 407.0,315.0 407.6,316.6 408.5,320.5 410.5,316.6 412.4,319.5 415.3,320.5 418.2,324.3 420.1,319.5 421.1,310.8 423.0,330.2 424.0,336.0 425.0,329.2 426.9,334.0 428.8,340.8 430.8,343.7 431.7,340.8 433.7,346.6 434.6,352.4 436.6,348.5 438.5,353.4 440.4,362.1 442.4,365.0 445.3,368.8 448.2,368.8 451.1,365.9 453.0,372.7 455.0,371.7 456.5,365.9 457.9,373.7 459.8,377.6 461.7,369.8 463.7,372.7 466.6,373.7 468.5,369.8 470.4,377.6 473.3,372.7 476.2,374.6 478.2,369.8 480.1,376.6 482.0,372.7 484.9,381.4 487.8,377.6 489.8,382.4 491.9,382.4 493.9,386.3 495.8,390.1 497.7,386.3 499.7,389.2 501.6,381.4 503.5,390.1 505.5,385.3 509.3,385.3 511.3,390.1 513.2,381.4 515.2,388.2 517.1,385.3 520.0,385.3 522.9,390.1 524.8,387.2 526.8,382.4 528.7,386.3 530.6,390.1 532.6,385.3 534.5,387.2 536.4,385.3 540.3,385.3 542.2,383.4 544.2,381.4 546.1,384.3 548.0,382.4 551.9,381.4 552.9,377.6 558.7,377.6 560.6,373.7 564.5,372.7 566.4,369.8 568.4,368.8 570.9,373.7 573.2,369.8 576.1,368.8 579.0,365.0 582.9,365.0 584.8,360.1 586.7,356.3 589.6,352.4 594.5,352.0 596.4,348.5 601.2,348.0 603.2,340.8 606.1,339.8 609.0,335.0 611.9,332.1 614.8,327.2 617.7,324.3 619.6,320.5 622.5,315.6 624.5,311.8 627.4,316.6 630.3,316.6 632.2,320.1 639.9,320.1 641.9,316.6 643.8,311.8 646.7,311.8" stroke="#8080FF" stroke-width="1"/>
<polyline class="p c" points="188.9,172.6 198.5,172.6 199.5,178.1 201.4,172.6 206.3,172.6 207.8,177.7 209.8,172.6 212.1,178.1 214.0,172.6 216.9,172.6 218.9,178.1 221.8,181.0 222.7,179.0 223.7,181.0 226.0,189.7 228.5,189.7 231.4,179.0 233.4,183.9 236.3,184.8 238.2,189.7 239.8,184.8 241.1,184.8 243.0,190.0 245.9,195.1 248.8,195.1 250.8,190.6 256.6,190.6 258.5,184.8 260.1,189.7 261.6,184.8 263.4,184.8 265.3,193.0 266.6,184.8 268.2,193.0 269.7,195.1 273.0,195.1 275.0,201.3 276.9,202.2 277.9,206.5 280.8,207.1 282.7,212.3 284.6,213.5 287.5,218.7 289.1,213.8 290.4,219.1 293.3,219.1 295.3,213.8 296.2,204.2 297.8,201.3 300.7,213.3 303.4,201.3 305.0,202.2 306.3,207.1 308.8,201.9 312.7,201.3 314.2,196.4 316.2,200.7 317.1,196.0 322.4,195.5 323.9,188.7 325.3,179.0 327.6,184.4 330.1,184.4 332.0,174.2 334.0,171.3 335.9,166.8 339.8,166.4 340.8,166.8 344.7,166.3 346.6,161.0 348.2,166.3 355.9,166.3 357.8,172.1 361.1,162.4 364.0,160.5 366.9,172.1 375.6,172.4 378.5,177.9 381.4,184.1 388.2,184.1 391.1,189.5 393.0,193.3 395.4,196.8 397.3,200.1 399.8,201.1 401.7,204.0 402.7,204.7 405.6,205.6 406.6,211.4 408.5,218.2 410.5,214.0 413.4,214.0 415.3,222.1 417.2,230.8 420.1,231.8 421.1,237.6 424.0,245.3 425.9,251.1 427.9,249.2 429.8,255.0 431.7,260.8 433.7,268.5 435.6,272.4 437.5,276.3 439.5,280.1 440.4,277.2 442.4,286.9 444.3,284.0 446.2,290.8 448.2,295.6 454.0,295.6 455.9,301.4 457.9,310.1 459.8,307.2 461.7,315.0 466.6,318.5 469.5,324.3 471.4,330.2 472.8,336.0 474.7,330.2 476.2,336.0 482.0,336.3 484.9,341.8 487.8,346.6 489.8,352.4 491.9,348.5 493.5,361.1 495.8,359.2 497.7,363.0 499.7,369.8 502.6,372.7 504.5,377.6 507.4,378.5 509.3,383.4 511.3,384.3 513.2,389.2 515.2,386.3 517.1,384.3 519.0,394.0 521.0,399.8 527.7,400.2 529.7,404.6 531.6,410.4 535.5,411.0 537.4,416.2 539.3,413.3 541.3,419.1 544.2,424.0 550.0,424.0 551.9,419.1 553.8,412.4 555.8,418.2 561.6,418.2 563.5,412.4 566.4,412.4 568.4,423.0 570.3,417.2 572.2,409.5 574.2,405.6 575.5,411.4 577.1,400.8 578.0,405.6 580.0,399.8 581.9,395.0 584.8,394.4 586.7,390.1 589.1,389.2 590.6,382.4 592.5,376.6 594.5,369.8 595.4,365.0 597.4,363.0 599.3,357.2 601.2,350.5 602.2,340.8 603.2,336.0 605.1,341.8 607.0,336.0 610.0,336.0 611.9,330.2 613.8,329.2 615.8,336.0 617.7,321.4 619.6,318.5 621.6,329.2 624.5,330.2 626.4,335.0 628.3,337.9 629.7,341.8 632.2,342.3 634.1,346.6 636.1,350.5 638.0,354.3 640.9,355.3 642.3,359.2 643.8,348.5 646.7,348.5" stroke="#FF0080" stroke-width="1"/>
<polyline class="p c" points="188.9,270.6 191.8,269.3 194.7,271.6 197.6,273.5 199.5,277.4 202.4,280.3 205.3,284.2 207.2,289.0 209.2,291.9 212.1,294.8 215.0,296.4 216.9,299.7 219.8,297.7 222.7,293.9 225.6,293.9 230.5,293.9 231.4,297.7 234.3,299.7 236.3,301.6 238.2,303.5 240.1,301.6 242.1,298.7 244.0,294.8 245.9,296.8 248.8,296.8 250.8,298.7 252.7,303.5 253.7,309.3 255.6,313.2 257.6,311.3 259.5,314.2 261.4,319.0 263.4,322.9 265.3,326.7 267.2,332.6 270.1,332.6 273.0,331.6 275.0,332.6 277.9,332.0 279.8,333.9 281.7,337.4 283.7,341.3 285.2,345.1 287.5,345.1 289.9,344.2 291.4,347.1 293.3,350.0 295.7,350.0 298.2,345.1 300.1,344.2 302.0,346.1 304.0,349.0 305.9,350.9 308.8,351.3 310.8,352.9 312.7,355.8 315.0,354.8 317.5,356.7 319.5,354.8 321.4,351.9 324.3,349.0 328.2,347.4 330.1,344.2 332.0,337.4 333.6,330.6 335.5,323.8 337.8,316.1 339.8,309.3 341.3,301.6 342.7,296.8 346.6,291.7 348.5,288.8 350.5,282.1 353.4,274.3 354.3,268.5 357.2,262.7 359.2,256.9 362.1,250.1 366.0,245.7 369.8,244.9 372.7,241.4 374.7,236.6 377.6,230.2 380.5,229.4 382.4,224.0 385.3,220.2 388.2,215.3 391.1,214.0 393.0,204.7 395.9,199.8 397.9,198.9 399.8,204.7 401.7,202.7 403.7,190.4 405.6,185.6 407.6,180.8 409.5,181.7 411.4,179.8 413.4,177.9 415.3,173.0 416.6,168.2 418.6,165.3 420.1,173.0 422.1,166.3 423.0,148.8 424.4,151.7 425.5,156.6 427.9,157.6 429.8,152.7 431.7,148.8 433.7,152.7 435.6,159.5 437.5,159.5 439.5,148.8 440.4,135.3 442.4,138.2 444.3,140.1 445.7,134.3 447.2,144.0 449.1,136.3 451.1,137.2 453.0,123.7 455.0,126.6 456.5,135.3 458.8,131.4 460.8,130.5 462.7,132.4 464.6,128.5 466.6,120.8 468.5,117.9 470.0,128.5 472.0,119.8 473.9,126.6 475.8,116.0 479.1,115.0 482.0,116.0 484.9,115.0 486.9,112.1 488.8,108.2 490.7,103.4 492.7,104.3 494.8,104.3 496.2,110.2 497.7,104.3 499.7,103.4 502.6,103.4 504.5,105.3 507.0,111.1 509.0,103.4 511.3,100.5 514.2,100.1 516.1,104.3 517.5,109.2 520.0,106.3 521.9,104.0 523.9,104.7 525.8,106.7 528.7,106.3 530.2,110.2 532.6,109.2 534.5,111.1 536.4,114.0 538.4,116.3 543.2,116.9 546.1,119.4 548.0,122.7 550.0,126.6 551.9,130.5 553.8,133.4 556.7,134.9 558.7,138.2 561.6,141.1 563.5,145.4 565.5,146.5 568.4,147.3 570.3,148.8 573.2,151.7 576.1,153.7 578.0,156.6 580.0,160.5 582.9,164.3 584.8,166.6 586.3,170.1 587.1,175.0 588.7,179.8 590.2,185.6 594.5,186.0 595.4,190.4 598.3,193.3 600.3,197.2 602.2,201.1 604.1,205.6 607.0,212.4 610.0,219.2 612.9,226.9 614.8,232.7 616.7,238.5 618.7,242.4 621.6,244.9 624.5,246.9 626.4,245.7 629.3,246.9 632.2,244.9 638.0,244.9 640.9,248.2 642.8,254.0 644.8,256.9 646.7,258.8" stroke="#008000" stroke-width="2"/>
<polyline class="p c" points="188.9,298.3 196.6,298.3 198.5,301.6 200.5,305.5 203.4,309.3 205.3,313.2 208.2,319.0 211.1,321.9 214.0,323.5 216.0,327.7 218.9,331.0 220.8,329.3 223.7,328.7 228.5,328.1 231.4,328.7 233.4,332.6 236.3,336.4 239.2,339.7 241.1,342.2 243.0,339.3 245.0,336.8 247.9,337.4 250.8,337.0 252.7,341.3 255.6,345.1 257.6,348.6 260.5,351.9 262.4,353.3 264.3,353.8 266.3,356.7 268.2,359.6 271.1,361.6 274.0,362.5 276.9,363.5 279.8,363.9 281.7,366.4 284.6,369.9 287.5,371.2 290.4,372.6 293.3,374.1 295.3,376.1 297.2,377.6 300.1,376.7 303.0,376.1 306.9,376.1 310.8,376.5 313.7,378.0 316.6,379.6 318.5,380.9 321.4,379.0 323.3,376.1 325.3,373.2 328.2,370.3 331.1,367.4 333.0,365.4 334.9,362.5 337.8,356.7 339.8,352.9 341.7,345.1 343.6,338.4 345.6,330.2 348.5,320.5 351.4,312.7 353.4,305.0 356.3,299.5 358.2,293.7 361.1,286.9 364.0,281.1 366.9,276.3 368.9,271.4 372.7,266.6 375.6,260.8 378.5,255.9 381.4,249.2 384.3,242.4 388.2,236.6 390.1,227.9 392.1,214.3 394.0,207.6 395.9,203.7 397.9,200.8 400.8,200.8 401.7,204.7 404.6,203.7 407.6,198.9 410.5,195.0 412.4,189.5 414.3,182.7 416.3,175.9 418.2,166.3 419.5,156.6 421.1,143.0 422.1,129.5 423.0,117.9 424.0,106.3 425.0,96.6 425.5,90.8" stroke="#804000" stroke-width="1"/>
<polyline class="p c" points="546.5,90.8 547.7,99.5 549.6,108.2 551.5,116.9 553.5,124.7 555.4,131.4 557.7,139.2 559.6,145.0 561.2,152.7 562.0,160.5 563.1,170.1 564.5,179.8 566.0,189.5 567.4,197.2 569.3,201.1 572.2,204.7 574.2,206.6 576.1,207.6 579.0,210.1 583.8,211.4 585.8,214.3 587.7,220.2 589.6,226.0 592.5,230.8 595.4,233.7 598.3,237.6 601.2,241.4 603.2,245.3 605.1,251.1 607.0,255.9 609.0,260.8 611.9,266.6 614.8,273.4 616.7,278.2 618.7,284.0 621.6,289.8 625.4,293.7 628.3,295.6 633.2,297.2 639.0,297.9 642.8,299.1 645.7,302.4" stroke="#804000" stroke-width="1"/>
<g class="c" stroke="#808080" stroke-width="2" fill="none">
<line x1="189" y1="474.5" x2="199" y2="474.5"/>
<line x1="364" y1="474.5" x2="373" y2="474.5" stroke-dasharray="4 1"/>
<line x1="383" y1="474.5" x2="397" y2="474.5" stroke-dasharray="4 1"/>
<line x1="440" y1="474.5" x2="444" y2="474.5"/>
<line x1="461" y1="474.5" x2="490" y2="474.5" stroke-dasharray="2 2"/>
<line x1="511" y1="474.5" x2="519" y2="474.5" stroke-dasharray="2 2"/>
<line x1="521" y1="474.5" x2="524" y2="474.5"/>
<line x1="532" y1="474.5" x2="548" y2="474.5" stroke-dasharray="5 1"/>
<line x1="559" y1="474.5" x2="579" y2="474.5" stroke-dasharray="5 1"/>
<line x1="372" y1="449" x2="381" y2="449"/>
<line x1="431" y1="449" x2="438" y2="449"/>
<line x1="465" y1="449" x2="467" y2="449"/>
<line x1="474" y1="449" x2="490" y2="449" stroke-dasharray="2 3"/>
<line x1="501" y1="449" x2="507" y2="449"/>
<line x1="527" y1="449" x2="529" y2="449"/>
<line x1="562" y1="449" x2="564" y2="449"/>
<line x1="455" y1="446" x2="457" y2="446"/>
<line x1="397" y1="423.5" x2="400" y2="423.5"/>
<line x1="416" y1="423.5" x2="419" y2="423.5"/>
<line x1="454" y1="423.5" x2="457" y2="423.5"/>
<line x1="487" y1="423.5" x2="489" y2="423.5"/>
<line x1="524" y1="423.5" x2="526" y2="423.5"/>
<line x1="418" y1="398" x2="421" y2="398"/>
<line x1="446" y1="398" x2="449" y2="398"/>
<line x1="455" y1="398" x2="459" y2="398"/>
<line x1="414" y1="346" x2="417" y2="346"/>
<line x1="423" y1="346" x2="427" y2="346"/>
<line x1="444" y1="346" x2="446" y2="346"/>
<line x1="399" y1="116" x2="401" y2="116"/>
<line x1="403" y1="116" x2="405" y2="116"/>
<line x1="409" y1="116" x2="411" y2="116"/>
<line x1="412" y1="116" x2="414" y2="116"/>
<line x1="497" y1="116" x2="498" y2="116"/>
<line x1="436" y1="167" x2="438" y2="167"/>
<line x1="530" y1="141" x2="532" y2="141"/>
</g>
</g>
<g class="c">
<rect x="187" y="89" width="2" height="412" fill="#808080"/>
<rect x="646" y="89" width="3" height="412" fill="#808080"/>
<rect x="187" y="89" width="462" height="2" fill="#808080"/>
<rect x="187" y="500" width="462" height="1" fill="#808080"/>
</g>
<text transform="matrix(1 0 0 1.09 189 518.5)" text-anchor="middle">00:00</text>
<rect class="c" x="188" y="501" width="1" height="4" fill="#808080"/>
<text transform="matrix(1 0 0 1.09 227 518.5)" text-anchor="middle">02:00</text>
<rect class="c" x="226" y="501" width="1" height="4" fill="#808080"/>
<text transform="matrix(1 0 0 1.09 266 518.5)" text-anchor="middle">04:00</text>
<rect class="c" x="265" y="501" width="1" height="4" fill="#808080"/>
<text transform="matrix(1 0 0 1.09 304 518.5)" text-anchor="middle">06:00</text>
<rect class="c" x="303" y="501" width="1" height="4" fill="#808080"/>
<text transform="matrix(1 0 0 1.09 342 518.5)" text-anchor="middle">08:00</text>
<rect class="c" x="341" y="501" width="1" height="4" fill="#808080"/>
<text transform="matrix(1 0 0 1.09 381 518.5)" text-anchor="middle">10:00</text>
<rect class="c" x="380" y="501" width="1" height="4" fill="#808080"/>
<text transform="matrix(1 0 0 1.09 419 518.5)" text-anchor="middle">12:00</text>
<rect class="c" x="418" y="501" width="1" height="4" fill="#808080"/>
<text transform="matrix(1 0 0 1.09 457 518.5)" text-anchor="middle">14:00</text>
<rect class="c" x="456" y="501" width="1" height="4" fill="#808080"/>
<text transform="matrix(1 0 0 1.09 496 518.5)" text-anchor="middle">16:00</text>
<rect class="c" x="495" y="501" width="1" height="4" fill="#808080"/>
<text transform="matrix(1 0 0 1.09 534 518.5)" text-anchor="middle">18:00</text>
<rect class="c" x="533" y="501" width="1" height="4" fill="#808080"/>
<text transform="matrix(1 0 0 1.09 572 518.5)" text-anchor="middle">20:00</text>
<rect class="c" x="571" y="501" width="1" height="4" fill="#808080"/>
<text transform="matrix(1 0 0 1.09 611 518.5)" text-anchor="middle">22:00</text>
<rect class="c" x="610" y="501" width="1" height="4" fill="#808080"/>
<text transform="matrix(1 0 0 1.09 649 518.5)" text-anchor="middle">24:00</text>
<rect class="c" x="648" y="501" width="1" height="4" fill="#808080"/>
<text transform="matrix(1 0 0 1.09 10 529.5)">14:51</text>
<text transform="matrix(1 0 0 1.09 204 529.5)">00:26</text>
<text transform="matrix(1 0 0 1.09 298 529.5)" text-anchor="end">06:05</text>
<text transform="matrix(1 0 0 1.09 525.5 529.5)" textLength="24.5" lengthAdjust="spacingAndGlyphs">17:15</text>
<text transform="matrix(1 0 0 1.09 556.8 529.5)">20:57</text>
<g class="c">
<rect x="195" y="496" width="2" height="12" fill="#808080"/>
<rect x="304" y="495" width="2" height="13" fill="#FFFF00"/>
<rect x="518" y="500" width="2" height="8" fill="#808080"/>
<rect x="589" y="500" width="2" height="8" fill="#FFFF00"/>
<rect x="587.5" y="523.5" width="5" height="5" fill="none" stroke="#FFFF00"/>
<rect x="514.5" y="520.5" width="5" height="5" fill="none" stroke="#4040C0" stroke-dasharray="1 1"/>
</g>
<path d="M40 529v-2.5a4.5 4 0 0 1 9 0v2.5z" fill="#FFFF00"/>
<path d="M193.5 520.5h4v3h1.5l-3.500 5-3.500-5h1.500z" fill="#FFFF00" stroke="#000" stroke-width="0.6"/>
<path class="c" d="M197 528.500h4v-2" fill="none" stroke="#4040C0" stroke-dasharray="1 1"/>
<circle cx="305.500" cy="526.500" r="3.500" fill="#FFFF00"/>
<path d="M305.500 520.500v12M299.500 526.500h12M301.300 522.300l8.400 8.400M309.700 522.300l-8.400 8.400" stroke="#FFFF80" stroke-width="1" fill="none"/>
<circle cx="305.500" cy="526.500" r="3.200" fill="#FFFF00"/>
<path d="M522 522l3.500 5h-2v4.500h-3v-4.500h-2z" fill="#FFFF00" stroke="#000" stroke-width="0.6"/>
<g class="c">
<rect x="0" y="534" width="835" height="86" fill="#C0C0C0"/>
<rect x="0" y="534" width="1" height="86" fill="#fff"/>
<rect x="87" y="534" width="1" height="86" fill="#fff"/>
<rect x="88" y="534" width="1" height="86" fill="#999"/>
<rect x="204" y="534" width="1" height="86" fill="#fff"/>
<rect x="205" y="534" width="1" height="86" fill="#999"/>
<rect x="322" y="534" width="1" height="86" fill="#fff"/>
<rect x="323" y="534" width="1" height="86" fill="#999"/>
<rect x="440" y="534" width="1" height="86" fill="#fff"/>
<rect x="441" y="534" width="1" height="86" fill="#999"/>
<rect x="558" y="534" width="1" height="86" fill="#fff"/>
<rect x="559" y="534" width="1" height="86" fill="#999"/>
<rect x="676" y="534" width="1" height="86" fill="#fff"/>
<rect x="677" y="534" width="1" height="86" fill="#999"/>
<rect x="794" y="534" width="1" height="86" fill="#fff"/>
<rect x="795" y="534" width="1" height="86" fill="#999"/>
</g>
<text transform="matrix(1 0 0 1.06 8.5 551.5)" class="b" textLength="38.9" lengthAdjust="spacingAndGlyphs">Sensor</text>
<text transform="matrix(1 0 0 1.06 8.5 567.5)" class="b" textLength="47.1" lengthAdjust="spacingAndGlyphs">MinWert</text>
<text transform="matrix(1 0 0 1.06 8.5 583.5)" class="b" textLength="49.9" lengthAdjust="spacingAndGlyphs">MaxWert</text>
<text transform="matrix(1 0 0 1.06 8.5 599.5)" class="b" textLength="72" lengthAdjust="spacingAndGlyphs">Durchschnitt</text>
<text transform="matrix(1 0 0 1.06 8.5 615.5)" class="b" textLength="72.3" lengthAdjust="spacingAndGlyphs">07.08. 23:55</text>
<text transform="matrix(1 0 0 1.06 95 551.5)" class="b" textLength="63.7" lengthAdjust="spacingAndGlyphs">T- 2m aktiv</text>
<text transform="matrix(1 0 0 1.06 198.8 551.5)" text-anchor="end" class="b" textLength="13" lengthAdjust="spacingAndGlyphs">°C</text>
<text transform="matrix(1 0 0 1.09 100 567.5)">06:30</text>
<text transform="matrix(1 0 0 1.09 198.5 567.5)" text-anchor="end">14.4</text>
<text transform="matrix(1 0 0 1.09 100 583.5)">16:50</text>
<text transform="matrix(1 0 0 1.09 198.5 583.5)" text-anchor="end">29.4</text>
<text transform="matrix(1 0 0 1.09 100 599.5)" textLength="39.8" lengthAdjust="spacingAndGlyphs">(+ 3.51 )</text>
<text transform="matrix(1 0 0 1.09 198.5 599.5)" text-anchor="end">22.31</text>
<text transform="matrix(1 0 0 1.06 198.5 615.5)" text-anchor="end" class="b" textLength="23.7" lengthAdjust="spacingAndGlyphs">20.1</text>
<text transform="matrix(1 0 0 1.06 212 551.5)" class="b" textLength="63.4" lengthAdjust="spacingAndGlyphs">F- 2m aktiv</text>
<text transform="matrix(1 0 0 1.06 316.5 551.5)" text-anchor="end" class="b" textLength="9" lengthAdjust="spacingAndGlyphs">%</text>
<text transform="matrix(1 0 0 1.09 218 567.5)">16:00</text>
<text transform="matrix(1 0 0 1.09 316.3 567.5)" text-anchor="end">27</text>
<text transform="matrix(1 0 0 1.09 218 583.5)">06:50</text>
<text transform="matrix(1 0 0 1.09 316.3 583.5)" text-anchor="end">65</text>
<text transform="matrix(1 0 0 1.09 316.3 599.5)" text-anchor="end">44</text>
<text transform="matrix(1 0 0 1.09 215 615.5)" textLength="46.6" lengthAdjust="spacingAndGlyphs">8.00 g/m³</text>
<text transform="matrix(1 0 0 1.06 316.5 615.5)" text-anchor="end" class="b" textLength="14.3" lengthAdjust="spacingAndGlyphs">46</text>
<text transform="matrix(1 0 0 1.06 330 551.5)" class="b" textLength="53.9" lengthAdjust="spacingAndGlyphs">Luftdruck</text>
<text transform="matrix(1 0 0 1.06 435.5 551.5)" text-anchor="end" class="b" textLength="23" lengthAdjust="spacingAndGlyphs">hPa</text>
<text transform="matrix(1 0 0 1.09 336 567.5)">18:30</text>
<text transform="matrix(1 0 0 1.09 435 567.5)" text-anchor="end" textLength="33.3" lengthAdjust="spacingAndGlyphs">1017.3</text>
<text transform="matrix(1 0 0 1.09 336 583.5)">08:15</text>
<text transform="matrix(1 0 0 1.09 435 583.5)" text-anchor="end" textLength="33.3" lengthAdjust="spacingAndGlyphs">1021.8</text>
<text transform="matrix(1 0 0 1.09 330.3 599.5)" textLength="51.6" lengthAdjust="spacingAndGlyphs">^1.0hPa/h</text>
<text transform="matrix(1 0 0 1.09 435 599.5)" text-anchor="end" textLength="33.3" lengthAdjust="spacingAndGlyphs">1019.9</text>
<text transform="matrix(1 0 0 1.09 330.3 615.5)" textLength="58.5" lengthAdjust="spacingAndGlyphs">veränderlich</text>
<text transform="matrix(1 0 0 1.06 435 615.5)" text-anchor="end" class="b" textLength="39.1" lengthAdjust="spacingAndGlyphs">1018.6</text>
<text transform="matrix(1 0 0 1.06 448 551.5)" class="b" textLength="57.5" lengthAdjust="spacingAndGlyphs">Windböen</text>
<text transform="matrix(1 0 0 1.06 552.5 551.5)" text-anchor="end" class="b" textLength="28.9" lengthAdjust="spacingAndGlyphs">km/h</text>
<text transform="matrix(1 0 0 1.09 448.5 567.5)" textLength="44.1" lengthAdjust="spacingAndGlyphs">Ø 10 min.</text>
<text transform="matrix(1 0 0 1.09 552.3 567.5)" text-anchor="end">0.0</text>
<text transform="matrix(1 0 0 1.09 454.3 583.5)">12:30</text>
<text transform="matrix(1 0 0 1.09 552.3 583.5)" text-anchor="end" textLength="51.3" lengthAdjust="spacingAndGlyphs">N-NO 19.3</text>
<text transform="matrix(1 0 0 1.09 552.3 599.5)" text-anchor="end">5.8</text>
<text transform="matrix(1 0 0 1.09 454.3 615.5)" textLength="32.2" lengthAdjust="spacingAndGlyphs">0 Bft N</text>
<text transform="matrix(1 0 0 1.06 552.5 615.5)" text-anchor="end" class="b" textLength="17.8" lengthAdjust="spacingAndGlyphs">0.0</text>
<text transform="matrix(1 0 0 1.06 566.3 551.5)" class="b" textLength="37.2" lengthAdjust="spacingAndGlyphs">Regen</text>
<text transform="matrix(1 0 0 1.06 670.5 551.5)" text-anchor="end" class="b" textLength="21.8" lengthAdjust="spacingAndGlyphs">l/m²</text>
<text transform="matrix(1 0 0 1.09 566.5 567.5)" textLength="27.1" lengthAdjust="spacingAndGlyphs">0 min.</text>
<text transform="matrix(1 0 0 1.09 572.2 583.5)">00:00</text>
<text transform="matrix(1 0 0 1.09 670.5 583.5)" text-anchor="end">0.0</text>
<text transform="matrix(1 0 0 1.09 566.5 599.5)" textLength="38.3" lengthAdjust="spacingAndGlyphs">Gesamt:</text>
<text transform="matrix(1 0 0 1.09 670.5 599.5)" text-anchor="end">0.0</text>
<text transform="matrix(1 0 0 1.09 569.3 615.5)" textLength="36.1" lengthAdjust="spacingAndGlyphs">0.0 l/m²</text>
<text transform="matrix(1 0 0 1.06 670.5 615.5)" text-anchor="end" class="b" textLength="17.8" lengthAdjust="spacingAndGlyphs">0.0</text>
<text transform="matrix(1 0 0 1.06 684.3 551.5)" class="b" textLength="58.3" lengthAdjust="spacingAndGlyphs">PMV+2:18</text>
<text transform="matrix(1 0 0 1.09 684.3 567.5)" textLength="56.4" lengthAdjust="spacingAndGlyphs">WC 20.1 °C</text>
<text transform="matrix(1 0 0 1.09 684.3 583.5)" textLength="46.5" lengthAdjust="spacingAndGlyphs">TP 8.1 °C</text>
<text transform="matrix(1 0 0 1.09 684.3 599.5)" textLength="51.4" lengthAdjust="spacingAndGlyphs">0.7hPa/3h</text>
<text transform="matrix(1 0 0 1.09 684.3 615.5)" textLength="54.4" lengthAdjust="spacingAndGlyphs">-0.2hPa/1h</text>
</svg>
</body></html>
